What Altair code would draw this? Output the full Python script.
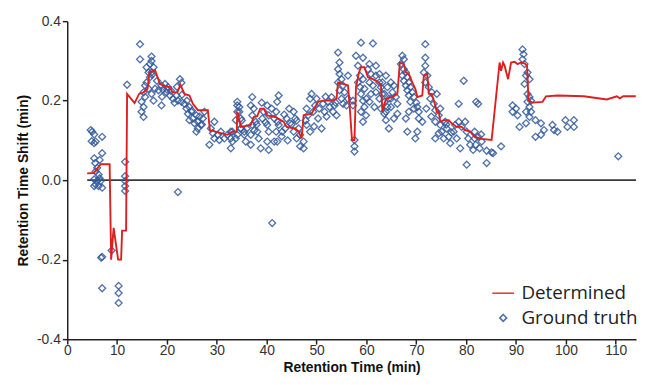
import altair as alt
import pandas as pd

# ---------------- data ----------------
det_x = [4.0, 5.3, 5.6, 6.7, 8.5, 8.8, 9.3, 10.2, 10.8, 11.0, 11.8, 12.0, 13.5, 14.4, 15.3, 16.1,
         16.5, 17.6, 18.6, 19.6, 20.6, 21.1, 22.1, 22.7, 23.5, 24.5, 25.2, 26.2, 28.2, 28.6,
         32.1, 33.1, 34.0, 34.1, 34.8, 36.8, 37.4, 38.1, 38.7, 39.4, 40.1, 41.7, 43.4, 44.0,
         45.7, 46.4, 47.0, 47.4, 49.0, 49.7, 50.3, 51.3, 53.3, 54.0, 54.3, 55.3, 56.3, 56.6,
         57.1, 57.6, 57.9, 58.5, 58.9, 59.6, 60.3, 61.3, 62.2, 62.9, 63.2, 63.9, 65.2, 66.2,
         66.7, 67.5, 67.9, 68.5, 69.2, 69.8, 70.2, 71.2, 71.5, 72.2, 72.5, 73.1, 73.8, 74.1,
         74.5, 74.8, 75.5, 76.5, 77.1, 78.1, 79.1, 79.8, 80.8, 81.7, 83.1, 85.1, 86.7, 87.0,
         87.4, 87.7, 88.4, 89.0, 89.7, 90.3, 91.0, 91.7, 92.2, 92.5, 93.3, 95.3, 96.0, 98.3,
         103.6, 108.2, 110.2, 110.8, 111.5, 114.0]
det_y = [0.017, 0.018, 0.022, 0.040, 0.040, -0.200, -0.120, -0.200, -0.200, -0.127, -0.127, 0.217, 0.194, 0.217, 0.221, 0.230,
         0.271, 0.277, 0.242, 0.236, 0.234, 0.221, 0.221, 0.240, 0.217, 0.213, 0.192, 0.176, 0.176, 0.126,
         0.114, 0.122, 0.122, 0.172, 0.134, 0.139, 0.159, 0.161, 0.180, 0.180, 0.163, 0.159, 0.147, 0.134,
         0.130, 0.122, 0.105, 0.163, 0.167, 0.184, 0.197, 0.200, 0.200, 0.205, 0.246, 0.242, 0.238, 0.192,
         0.101, 0.101, 0.234, 0.271, 0.284, 0.284, 0.259, 0.254, 0.248, 0.240, 0.172, 0.205, 0.209, 0.217,
         0.296, 0.292, 0.271, 0.267, 0.246, 0.230, 0.209, 0.213, 0.263, 0.267, 0.217, 0.217, 0.188, 0.172,
         0.172, 0.147, 0.151, 0.151, 0.143, 0.134, 0.134, 0.126, 0.122, 0.109, 0.104, 0.101, 0.296, 0.275,
         0.296, 0.288, 0.254, 0.296, 0.298, 0.292, 0.296, 0.294, 0.288, 0.200, 0.195, 0.197, 0.211, 0.213,
         0.211, 0.203, 0.211, 0.206, 0.211, 0.211]

gt_x = [
    4.7, 5.0, 5.4, 7.0, 5.7, 5.4, 7.0, 5.4, 5.6, 6.5,
    6.0, 5.7, 6.3, 5.4, 6.0, 6.7, 5.7, 6.3, 7.0, 5.4,
    7.0, 6.8, 8.9, 7.0, 10.3, 10.3, 10.3, 11.6, 11.6, 11.6,
    11.6, 11.6, 6.5, 4.9, 12.0, 22.2, 41.1,
    14.6, 14.6, 16.9, 16.9, 16.6, 15.9, 17.3, 16.3, 16.9, 16.6,
    15.9, 15.6, 15.3, 15.6, 14.9, 15.3, 14.9, 15.3, 16.3, 16.9,
    17.6, 17.3, 18.9, 18.3, 18.9, 19.6, 20.2, 19.9, 20.6, 21.2,
    21.9, 22.6, 22.9, 22.2, 22.9, 23.5, 23.9, 24.5, 24.2, 24.9,
    25.2, 24.5, 25.9, 25.5, 26.2, 26.2, 25.9, 26.8, 27.2, 27.5,
    28.5, 28.8, 29.2, 29.5, 29.5, 30.2, 30.5, 30.8, 31.5, 32.1,
    32.8, 33.1, 33.8, 34.5, 34.1, 34.8, 35.5, 17.0, 18.0, 19.2,
    20.8, 21.5, 23.0, 24.0, 25.0, 26.5, 27.0, 19.0, 20.0, 22.0,
    34.1, 34.5, 34.1, 34.8, 33.8, 34.8, 34.1, 33.1, 32.8, 32.8,
    35.5, 35.8, 36.8, 36.8, 37.1, 36.8, 37.4, 37.1, 37.8, 37.1,
    38.1, 38.4, 38.8, 39.4, 39.1, 40.1, 40.4, 40.1, 40.4, 40.1,
    40.4, 41.5, 41.9, 42.2, 42.1, 42.4, 42.4, 41.9, 42.1, 41.5,
    43.1, 43.7, 44.0, 44.7, 45.4, 45.7, 45.4, 46.0, 46.4, 46.7,
    47.4, 47.4, 46.7, 48.0, 48.3, 48.0, 48.7, 49.0, 48.7, 49.7,
    49.3, 50.0, 50.3, 51.0, 51.3, 51.6, 52.3, 52.6, 53.0, 53.3,
    53.6, 54.0, 54.3, 54.6, 54.3, 54.6, 55.0, 54.3, 55.3, 54.6,
    55.6, 55.0, 55.3, 56.0, 56.3, 56.3, 57.3, 57.6, 57.6, 57.6,
    57.3, 35.0, 36.0, 38.0, 39.0, 43.0, 44.5, 46.0, 50.5, 52.0,
    37.5, 39.8, 41.0, 43.5, 45.0, 47.8, 49.5, 51.8, 53.8, 44.2,
    58.9, 61.3, 59.3, 58.3, 58.7, 58.3, 59.3, 58.7, 59.6, 58.9,
    59.3, 60.6, 60.9, 60.3, 61.3, 61.9, 61.9, 62.6, 62.9, 63.6,
    63.6, 63.9, 64.2, 64.9, 64.9, 57.9, 60.6, 61.9, 62.6, 63.2,
    63.9, 64.2, 63.2, 63.6, 63.9, 64.5, 65.2, 65.5, 65.9, 66.2,
    60.0, 60.9, 60.6, 61.6, 62.6, 62.9, 59.6, 58.9, 59.9, 59.3,
    64.9, 66.2, 65.5, 64.5,
    67.2, 67.5, 66.9, 67.5, 67.9, 67.2, 68.2, 67.5, 68.5, 67.9,
    68.8, 68.2, 69.2, 68.5, 69.5, 68.8, 70.2, 70.5, 70.5, 71.2,
    71.8, 71.8, 71.8, 71.5, 72.2, 71.8, 72.5, 73.1, 72.8, 73.5,
    74.1, 73.8, 74.5, 74.8, 73.8, 74.8, 74.5, 73.8, 75.1, 75.8,
    76.1, 75.5, 76.5, 76.8, 77.5, 77.8, 78.1, 78.8, 78.5, 79.1,
    79.5, 79.8, 80.1, 80.4, 80.8, 81.4, 81.7, 78.5, 82.0, 69.8,
    70.2, 68.2, 67.9, 68.5, 69.5, 70.0, 72.0, 73.0, 76.0, 77.0,
    82.4, 81.7, 82.4, 83.1, 81.9, 82.7, 84.1, 85.1, 84.1, 87.0,
    89.3, 90.0, 89.3, 90.3, 90.7, 91.3, 91.5, 91.3, 91.7, 92.0,
    92.3, 91.7, 92.7, 92.3, 92.7, 93.0, 92.3, 92.7, 92.0, 93.0,
    92.7, 92.0, 93.9, 95.0, 93.9, 95.0, 95.6, 97.3, 97.6, 98.3,
    99.9, 100.3, 101.6, 101.6, 110.5, 80.1, 85.4, 83.0,
]
gt_y = [
    0.126, 0.122, 0.115, 0.109, 0.097, 0.093, 0.068, 0.055, 0.043, 0.051,
    0.031, 0.022, 0.014, 0.002, -0.002, -0.002, -0.011, -0.015, -0.019, -0.015,
    -0.193, -0.195, -0.177, -0.272, -0.266, -0.284, -0.309, 0.046, 0.010, -0.002,
    -0.015, -0.027, 0.005, 0.098, 0.240, -0.030, -0.108,
    0.342, 0.304, 0.311, 0.300, 0.292, 0.284, 0.284, 0.271, 0.271, 0.259,
    0.246, 0.238, 0.221, 0.209, 0.197, 0.184, 0.172, 0.159, 0.230, 0.217,
    0.230, 0.200, 0.188, 0.226, 0.238, 0.242, 0.234, 0.221, 0.213, 0.205,
    0.213, 0.254, 0.245, 0.200, 0.197, 0.192, 0.180, 0.184, 0.167, 0.172,
    0.155, 0.151, 0.163, 0.143, 0.147, 0.130, 0.122, 0.139, 0.155, 0.172,
    0.089, 0.130, 0.118, 0.105, 0.147, 0.114, 0.101, 0.122, 0.105, 0.114,
    0.122, 0.097, 0.105, 0.172, 0.188, 0.130, 0.114, 0.265, 0.250, 0.228,
    0.225, 0.195, 0.215, 0.200, 0.175, 0.160, 0.140, 0.210, 0.228, 0.235,
    0.197, 0.184, 0.172, 0.155, 0.151, 0.130, 0.114, 0.122, 0.105, 0.080,
    0.122, 0.097, 0.114, 0.089, 0.209, 0.188, 0.180, 0.163, 0.147, 0.139,
    0.122, 0.105, 0.080, 0.172, 0.155, 0.188, 0.163, 0.139, 0.122, 0.097,
    0.076, 0.155, 0.172, 0.147, 0.197, 0.213, 0.139, 0.122, 0.097, 0.097,
    0.122, 0.130, 0.155, 0.143, 0.172, 0.155, 0.122, 0.105, 0.130, 0.114,
    0.097, 0.080, 0.085, 0.180, 0.163, 0.139, 0.122, 0.217, 0.205, 0.188,
    0.172, 0.205, 0.155, 0.130, 0.192, 0.172, 0.197, 0.184, 0.209, 0.172,
    0.188, 0.163, 0.321, 0.296, 0.279, 0.267, 0.254, 0.246, 0.238, 0.226,
    0.221, 0.205, 0.192, 0.188, 0.205, 0.263, 0.200, 0.101, 0.085, 0.072,
    0.188, 0.150, 0.130, 0.140, 0.195, 0.110, 0.180, 0.150, 0.180, 0.160,
    0.125, 0.145, 0.180, 0.165, 0.140, 0.150, 0.135, 0.210, 0.195, 0.100,
    0.346, 0.344, 0.308, 0.288, 0.263, 0.246, 0.254, 0.234, 0.230, 0.217,
    0.200, 0.246, 0.267, 0.279, 0.238, 0.263, 0.221, 0.246, 0.234, 0.217,
    0.167, 0.151, 0.184, 0.246, 0.205, 0.313, 0.292, 0.288, 0.267, 0.246,
    0.263, 0.234, 0.217, 0.197, 0.172, 0.205, 0.221, 0.238, 0.209, 0.192,
    0.205, 0.217, 0.197, 0.184, 0.205, 0.180, 0.184, 0.172, 0.163, 0.147,
    0.184, 0.167, 0.155, 0.130,
    0.313, 0.304, 0.292, 0.279, 0.271, 0.263, 0.259, 0.250, 0.246, 0.238,
    0.234, 0.226, 0.221, 0.213, 0.209, 0.197, 0.184, 0.172, 0.155, 0.147,
    0.342, 0.308, 0.288, 0.271, 0.263, 0.246, 0.234, 0.221, 0.205, 0.192,
    0.217, 0.176, 0.163, 0.180, 0.147, 0.139, 0.118, 0.105, 0.122, 0.147,
    0.130, 0.105, 0.109, 0.093, 0.122, 0.139, 0.105, 0.080, 0.147, 0.134,
    0.250, 0.147, 0.122, 0.105, 0.089, 0.076, 0.105, 0.192, 0.197, 0.105,
    0.122, 0.122, 0.155, 0.172, 0.180, 0.195, 0.180, 0.160, 0.140, 0.120,
    0.192, 0.122, 0.109, 0.097, 0.089, 0.080, 0.074, 0.070, 0.043, 0.085,
    0.188, 0.180, 0.172, 0.163, 0.134, 0.329, 0.317, 0.304, 0.292, 0.263,
    0.271, 0.242, 0.254, 0.217, 0.209, 0.200, 0.197, 0.184, 0.172, 0.172,
    0.159, 0.143, 0.151, 0.143, 0.109, 0.114, 0.126, 0.139, 0.126, 0.122,
    0.151, 0.134, 0.151, 0.134, 0.060, 0.039, 0.068, 0.115,
]
assert len(gt_x) == len(gt_y), (len(gt_x), len(gt_y))
assert len(det_x) == len(det_y), (len(det_x), len(det_y))

zero_x = [4.0, 114.06]
zero_y = [0.0, 0.0]

series_names = ["Determined", "Ground truth"]
x_ticks = [0, 10, 20, 30, 40, 50, 60, 70, 80, 90, 100, 110]
y_ticks = [-0.4, -0.2, 0.0, 0.2, 0.4]

# ---------------- tables ----------------
det = pd.DataFrame({"x": det_x, "y": det_y, "i": list(range(len(det_x)))})
gt = pd.DataFrame({"x": gt_x, "y": gt_y, "series": ["Ground truth"] * len(gt_x)})
zero = pd.DataFrame({"x": zero_x, "y": zero_y})

RED = "#dd1f1f"
BLUE = "#345b9c"
FONT = "Liberation Sans"

xs = alt.Scale(domain=[0, 114.06], nice=False, zero=False)
ys = alt.Scale(domain=[-0.4, 0.4], nice=False, zero=False)

x_axis = alt.Axis(values=x_ticks, title="Retention Time (min)", labelPadding=0,
                  titlePadding=3, labelFlush=False)
y_axis = alt.Axis(values=y_ticks, title="Retention Time Shift (min)", titlePadding=6,
                  labelExpr="replace(format(datum.value, '.1f'), '\u2212', '-')")

STROKE_PATH = "M-2.2,0L2.2,0"
DIAMOND_PATH = "M0,-0.7L0.7,0L0,0.7L-0.7,0Z"

legend = alt.Legend(title=None, orient="none", legendX=432, legendY=266,
                    labelFont="Open Sans", labelFontSize=19, labelColor="#222",
                    symbolSize=100, symbolStrokeWidth=1.6, labelOffset=9,
                    rowPadding=5, padding=0, symbolFillColor="transparent")

zero_layer = alt.Chart(zero).mark_line(color="#3a3a3a", strokeWidth=1.6).encode(
    x=alt.X("x:Q", scale=xs, axis=x_axis),
    y=alt.Y("y:Q", scale=ys, axis=y_axis),
)

points = alt.Chart(gt).mark_point(filled=False, size=100, strokeWidth=1.35, opacity=0.85).encode(
    x=alt.X("x:Q", scale=xs, axis=x_axis),
    y=alt.Y("y:Q", scale=ys, axis=y_axis),
    color=alt.Color("series:N", scale=alt.Scale(domain=series_names, range=[RED, BLUE]),
                    legend=legend),
    shape=alt.Shape("series:N", scale=alt.Scale(domain=series_names,
                                                range=[STROKE_PATH, DIAMOND_PATH]),
                    legend=legend),
)

line = alt.Chart(det).mark_line(color=RED, strokeWidth=1.9, interpolate="linear").encode(
    x=alt.X("x:Q", scale=xs, axis=x_axis),
    y=alt.Y("y:Q", scale=ys, axis=y_axis),
    order="i:Q",
)

chart = alt.layer(zero_layer, points, line).properties(
    width=576, height=322,
    autosize=alt.AutoSizeParams(type="none"),
    padding={"left": 60, "top": 11, "right": 3, "bottom": 36},
).configure_view(stroke=None).configure_axis(
    grid=False,
    domainColor="#222", domainWidth=1.5,
    tickColor="#222", tickWidth=1.5, tickSize=5,
    labelFont=FONT, labelFontSize=14, labelColor="#333",
    titleFont=FONT, titleFontSize=14, titleFontWeight="bold", titleColor="#111",
)

chart.save("out.html", embed_options={"renderer": "svg", "actions": False})
